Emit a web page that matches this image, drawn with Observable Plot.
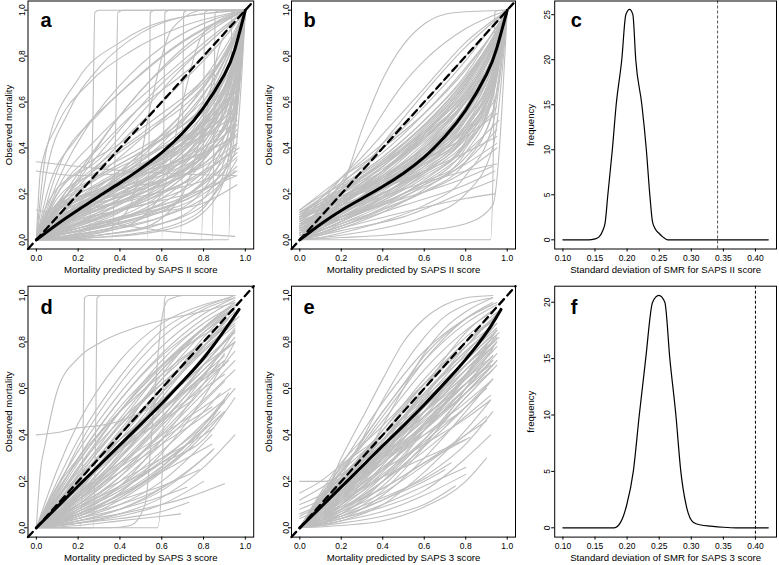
<!DOCTYPE html>
<html><head><meta charset="utf-8">
<script src="https://cdn.jsdelivr.net/npm/d3@7"></script>
<script src="https://cdn.jsdelivr.net/npm/@observablehq/plot@0.6"></script>
<style>
body{margin:0;background:#fff}
#root{position:relative;width:779px;height:565px;overflow:hidden;background:#fff}
#root svg{position:absolute;overflow:visible}
</style>
</head><body><div id="root"></div>
<script>
// ---------- data ----------
const calTicks = [0, 0.2, 0.4, 0.6, 0.8, 1.0];
const sdTicks = [0.10, 0.15, 0.20, 0.25, 0.30, 0.35, 0.40];
const freqTicksC = [0, 5, 10, 15, 20, 25];
const freqTicksF = [0, 5, 10, 15, 20];

// black mean calibration curves (x,y pairs flattened)
const blackA = [0,0,.1,.068,.2,.13,.3,.19,.4,.248,.5,.31,.6,.38,.7,.465,.8,.575,.9,.72,.95,.83,1,1];
const blackB = [0,0,.1,.068,.2,.128,.3,.18,.4,.232,.5,.29,.6,.36,.7,.45,.8,.565,.9,.72,.95,.835,1,1];
const blackD = [0,0,.1,.09,.2,.18,.3,.268,.4,.357,.5,.445,.6,.535,.7,.63,.8,.73,.9,.85,.97,.94];
const blackE = [0,0,.1,.088,.2,.176,.3,.264,.4,.353,.5,.44,.6,.53,.7,.625,.8,.725,.9,.84,.97,.94];

// gray hospital calibration curves, panel a
const grayA = [
[0,0,.2,.05,.4,.12,.6,.25,.8,.45,.92,.7,1,1],
[0,0,.2,.1,.4,.2,.6,.33,.8,.55,.93,.78,1,1],
[0,0,.2,.15,.4,.27,.6,.42,.8,.63,.93,.84,1,1],
[0,0,.1,.12,.3,.25,.5,.35,.7,.48,.9,.7,1,1],
[0,0,.1,.02,.3,.06,.5,.12,.7,.22,.9,.45,1,1],
[0,0,.1,.06,.3,.15,.5,.25,.7,.38,.9,.62,1,1],
[0,0,.1,.18,.3,.3,.5,.4,.7,.52,.9,.75,1,1],
[0,0,.05,.15,.2,.3,.4,.42,.6,.55,.8,.7,.95,.88,1,1],
[0,0,.2,.02,.4,.05,.6,.1,.8,.22,.93,.5,1,1],
[0,0,.3,.01,.6,.04,.8,.12,.93,.35,1,1],
[0,0,.1,.1,.3,.2,.5,.3,.7,.42,.85,.58,.95,.8,1,1],
[0,0,.1,.08,.3,.18,.5,.3,.7,.47,.85,.66,.95,.87,1,1],
[0,0,.1,.04,.3,.1,.5,.18,.7,.3,.85,.46,.95,.72,1,1],
[0,0,.1,.14,.3,.24,.5,.32,.7,.42,.85,.52,.95,.68,1,1],
[0,0,.15,.2,.35,.35,.55,.48,.75,.62,.9,.8,1,1],
[0,0,.15,.1,.35,.25,.55,.4,.75,.58,.9,.78,1,1],
[0,0,.15,.05,.35,.15,.55,.28,.75,.47,.9,.7,1,1],
[0,0,.1,.09,.3,.16,.5,.22,.7,.3,.85,.42,.95,.6,1,1],
[0,0,.1,.13,.3,.22,.5,.28,.7,.36,.85,.48,.95,.62,1,1],
[0,0,.2,.2,.4,.36,.6,.52,.8,.7,.93,.88,1,1],
[0,0,.2,.07,.4,.16,.6,.3,.8,.5,.93,.74,1,1],
[0,0,.2,.03,.4,.09,.6,.18,.8,.35,.93,.6,1,1],
[0,0,.2,.05,.5,.12,.8,.25,.96,.42],
[0,0,.2,.08,.5,.15,.8,.22,.96,.28],
[0,0,.2,.12,.5,.25,.8,.4,.96,.55],
[0,0,.2,.15,.5,.3,.8,.5,.96,.68],
[0,0,.1,.05,.4,.2,.7,.36,.95,.6],
[0,0,.1,.1,.4,.3,.7,.55,.95,.87],
[0,0,.3,.1,.6,.2,.8,.3,.97,.4],
[0,0,.3,.04,.6,.1,.8,.18,.95,.3],
[0,0,.2,.18,.5,.33,.8,.45,.96,.5],
[0,0,.2,.1,.5,.2,.8,.33,.95,.45],
[0,0,.05,.3,.15,.55,.3,.75,.5,.9,.7,.97,1,1],
[0,0,.1,.25,.25,.5,.45,.72,.65,.87,.85,.96,1,1],
[0,0,.1,.15,.3,.42,.5,.65,.7,.82,.9,.95,1,1],
[0,0,.05,.4,.2,.7,.4,.86,.6,.95,1,1],
[0,0,.1,.2,.3,.35,.5,.55,.7,.75,.9,.92,1,1],
[0,0,.15,.2,.35,.48,.55,.7,.75,.87,1,1],
[0,0,.1,.3,.3,.55,.5,.72,.7,.86,.9,.96,1,1],
[0,0,.05,.2,.2,.45,.4,.64,.6,.8,.8,.92,1,1],
[0,0,.02,.3,.1,.5,.25,.68,.45,.82,.7,.93,1,1],
[0,0,.3,.03,.45,.15,.55,.6,.65,.92,.8,1,1,1],
[0,0,.4,.05,.6,.2,.7,.6,.8,.9,1,1],
[0,0,.5,.05,.7,.2,.8,.5,.88,.85,1,1],
[0,0,.25,0,.27,.5,.28,.99,.3,1,1,1],
[0,0,.36,0,.38,.5,.39,.99,.42,1,1,1],
[0,0,.53,0,.54,.5,.545,.99,.57,1,1,1],
[0,0,.6,0,.61,.5,.615,.99,.64,1,1,1],
[0,0,.69,0,.7,.5,.705,.99,.73,1,1,1],
[0,0,.79,0,.8,.5,.805,.99,.83,1,1,1],
[0,0,.84,0,.85,.5,.855,.99,.88,1,1,1],
[0,0,.92,0,.93,.5,.935,.99,.96,1,1,1],
[0,.34,.3,.31,.6,.29,.95,.28],
[0,.13,.3,.08,.6,.04,.95,.015],
[0,.3,.2,.28,.5,.3,.8,.38,.96,.45],
[0,0,.1,.05,.3,.12,.5,.2,.7,.32,.85,.5,.95,.75,1,1],
[0,0,.1,.07,.3,.17,.5,.27,.7,.4,.85,.56,.95,.78,1,1],
[0,0,.1,.11,.3,.21,.5,.29,.7,.39,.85,.53,.95,.74,1,1],
[0,0,.1,.03,.3,.09,.5,.16,.7,.27,.85,.42,.95,.66,1,1],
[0,0,.1,.01,.3,.04,.5,.09,.7,.18,.85,.33,.95,.58,1,1],
[0,0,.1,.15,.3,.28,.5,.38,.7,.5,.85,.64,.95,.82,1,1],
[0,0,.1,.06,.3,.13,.5,.21,.7,.35,.85,.54,.96,.66],
[0,0,.1,.04,.3,.11,.5,.2,.7,.31,.85,.42,.96,.5],
[0,0,.1,.08,.3,.2,.5,.32,.7,.45,.85,.6,.96,.75],
[0,0,.1,.02,.3,.05,.5,.1,.7,.18,.85,.28,.96,.38],
[0,0,.1,.12,.3,.22,.5,.3,.7,.4,.85,.48,.96,.55],
[0,0,.1,.09,.3,.19,.5,.26,.7,.34,.85,.4,.96,.46],
[0,0,.2,.04,.4,.1,.6,.2,.8,.38,.9,.55,.97,.8,1,1],
[0,0,.2,.06,.4,.13,.6,.22,.8,.4,.9,.58,1,1],
[0,0,.2,.09,.4,.18,.6,.28,.8,.44,.9,.6,1,1],
[0,0,.2,.11,.4,.22,.6,.35,.8,.52,.9,.66,1,1],
[0,0,.2,.13,.4,.24,.6,.37,.8,.6,.9,.78,1,1],
[0,0,.2,.16,.4,.3,.6,.46,.8,.66,.9,.8,1,1],
[0,0,.2,.23,.4,.42,.6,.6,.8,.78,.9,.88,1,1],
[0,0,.2,.26,.4,.48,.6,.68,.8,.84,.9,.92,1,1],
[0,0,.1,.2,.3,.4,.5,.58,.7,.72,.9,.88,1,1],
[0,0,.05,.1,.2,.22,.4,.33,.6,.44,.8,.58,.95,.8,1,1],
[0,0,.05,.08,.2,.14,.4,.2,.6,.26,.8,.36,.95,.55,1,1],
[0,0,.05,.05,.2,.09,.4,.13,.6,.18,.8,.28,.95,.5,1,1],
[0,0,.3,.02,.6,.07,.8,.18,.93,.45,1,1],
[0,0,.4,.02,.7,.08,.85,.2,.95,.5,1,1],
[0,0,.2,.01,.5,.05,.8,.15,.96,.35],
[0,0,.2,.04,.5,.1,.8,.2,.96,.32],
[0,0,.1,.16,.3,.33,.5,.46,.7,.6,.85,.74,.95,.9,1,1],
[0,0,.1,.22,.3,.45,.5,.62,.7,.78,.9,.93,1,1],
[0,0,.1,.1,.25,.15,.45,.2,.65,.28,.85,.4,.96,.52],
[0,0,.1,.15,.25,.2,.45,.24,.65,.3,.85,.42,.96,.6],
[0,0,.05,.12,.2,.18,.4,.22,.6,.26,.8,.33,.96,.48],
[0,0,.1,.04,.25,.08,.45,.15,.65,.25,.85,.4,.95,.55,1,1],
[0,0,.1,.07,.25,.13,.45,.18,.65,.22,.85,.28,.96,.36],
[0,0,.1,.03,.25,.06,.45,.1,.65,.15,.85,.24,.96,.3],
[0,0,.05,.06,.2,.12,.4,.19,.6,.3,.8,.46,.95,.7,1,1],
[0,0,.05,.09,.2,.17,.4,.27,.6,.38,.8,.52,.95,.75,1,1],
[0,0,.05,.04,.2,.1,.4,.17,.6,.24,.8,.32,.96,.42],
[0,0,.1,.13,.3,.27,.5,.36,.7,.44,.85,.5,.96,.58],
[0,0,.1,.06,.3,.17,.5,.3,.7,.44,.85,.55,.96,.65],
[0,0,.15,.08,.35,.2,.55,.33,.75,.45,.9,.55,1,1],
[0,0,.15,.12,.35,.21,.55,.3,.75,.38,.9,.48,1,1],
[0,0,.15,.03,.35,.08,.55,.14,.75,.2,.9,.3,1,1],
[0,0,.2,.04,.4,.07,.6,.12,.8,.16,.96,.24],
[0,0,.2,.14,.4,.28,.6,.4,.8,.5,.96,.62],
[0,0,.1,.08,.2,.12,.4,.16,.6,.21,.8,.29,.95,.4],
[0,0,.1,.11,.2,.16,.4,.24,.6,.34,.8,.48,.95,.66,1,1],
[0,0,.05,.02,.2,.05,.4,.1,.6,.14,.8,.22,.95,.38,1,1],
[0,0,.1,.05,.2,.11,.4,.23,.6,.36,.8,.52,.95,.78,1,1]
];

// panel b
const grayB = [
[0,.1,.1,.16,.2,.22,.4,.33,.6,.47,.8,.66,.93,.85,1,1],
[0,.12,.1,.18,.2,.25,.4,.38,.6,.55,.8,.75,.93,.9,1,1],
[0,.08,.1,.12,.2,.17,.4,.27,.6,.4,.8,.6,.93,.82,1,1],
[0,.05,.1,.09,.2,.14,.4,.25,.6,.38,.8,.57,.93,.8,1,1],
[0,.03,.1,.07,.2,.12,.4,.22,.6,.34,.8,.52,.93,.76,1,1],
[0,.02,.1,.05,.2,.09,.4,.18,.6,.3,.8,.48,.93,.72,1,1],
[0,.1,.1,.14,.2,.18,.4,.26,.6,.36,.8,.5,.93,.7,1,1],
[0,.07,.1,.1,.2,.14,.4,.22,.6,.32,.8,.47,.93,.68,1,1],
[0,.13,.1,.2,.2,.27,.4,.42,.6,.6,.8,.8,.93,.93,1,1],
[0,.06,.1,.13,.2,.2,.4,.34,.6,.5,.8,.7,.93,.88,1,1],
[0,.09,.1,.15,.2,.2,.4,.3,.6,.43,.8,.6,.93,.78,1,1],
[0,.04,.1,.06,.2,.1,.4,.18,.6,.28,.8,.42,.93,.65,1,1],
[0,0,.1,.05,.2,.1,.4,.2,.6,.32,.8,.5,.93,.74,1,1],
[0,0,.1,.08,.2,.15,.4,.28,.6,.44,.8,.64,.93,.85,1,1],
[0,0,.1,.1,.2,.18,.4,.32,.6,.48,.8,.68,.93,.87,1,1],
[0,0,.1,.03,.2,.07,.4,.15,.6,.26,.8,.43,.93,.68,1,1],
[0,0,.1,.02,.2,.05,.4,.12,.6,.22,.8,.38,.93,.62,1,1],
[0,0,.1,.06,.2,.12,.4,.24,.6,.4,.8,.62,.93,.84,1,1],
[0,0,.1,.12,.2,.22,.4,.36,.6,.52,.8,.72,.93,.9,1,1],
[0,0,.1,.14,.2,.24,.4,.4,.6,.58,.8,.78,.93,.93,1,1],
[0,0,.1,.09,.2,.17,.4,.3,.6,.45,.8,.62,.93,.8,1,1],
[0,0,.1,.04,.2,.08,.4,.16,.6,.25,.8,.36,.93,.55,1,1],
[0,0,.1,.01,.2,.03,.4,.08,.6,.15,.8,.28,.93,.5,1,1],
[0,0,.2,.02,.4,.05,.6,.1,.8,.2,.93,.4,1,1],
[0,0,.2,.01,.4,.02,.6,.04,.8,.07,.93,.15,1,1],
[0,.05,.2,.15,.4,.3,.6,.45,.8,.6,.9,.72,.96,.86,1,1],
[0,.11,.1,.17,.2,.23,.4,.35,.6,.5,.8,.7,.93,.86,1,1],
[0,.02,.1,.04,.2,.08,.4,.19,.6,.34,.8,.56,.93,.79,1,1],
[0,.06,.1,.11,.2,.16,.4,.29,.6,.46,.8,.67,.93,.86,1,1],
[0,0,.2,.06,.5,.15,.8,.24,.94,.3],
[0,0,.2,.05,.5,.12,.8,.18,.94,.2],
[0,.05,.2,.12,.5,.22,.8,.3,.95,.33],
[0,.03,.2,.1,.5,.2,.8,.33,.95,.42],
[0,0,.2,.08,.5,.2,.8,.38,.96,.52],
[0,.08,.2,.15,.5,.26,.8,.38,.95,.45],
[0,.04,.2,.1,.5,.18,.8,.27,.93,.32],
[0,0,.1,.1,.2,.22,.3,.48,.4,.7,.5,.85,.6,.94,.75,.99,1,1],
[0,0,.1,.12,.2,.25,.3,.4,.4,.55,.5,.68,.6,.78,.8,.92,1,1],
[0,.04,.1,.1,.2,.2,.3,.3,.4,.42,.5,.53,.6,.64,.8,.84,1,1],
[0,0,.1,.15,.2,.27,.3,.36,.4,.46,.6,.66,.8,.86,1,1],
[0,.1,.1,.18,.2,.27,.3,.33,.4,.4,.6,.55,.8,.74,.93,.9,1,1],
[0,0,.92,0,.935,.5,.94,.99,.96,1,1,1],
[0,.07,.1,.12,.2,.18,.4,.3,.6,.44,.8,.63,.93,.84,1,1],
[0,.09,.1,.14,.2,.19,.4,.28,.6,.4,.8,.56,.93,.76,1,1],
[0,.11,.1,.15,.2,.19,.4,.27,.6,.38,.8,.53,.93,.72,1,1],
[0,.04,.1,.08,.2,.13,.4,.24,.6,.37,.8,.55,.93,.78,1,1],
[0,.03,.1,.06,.2,.11,.4,.21,.6,.35,.8,.54,.93,.78,1,1],
[0,.01,.1,.04,.2,.08,.4,.17,.6,.29,.8,.46,.93,.7,1,1],
[0,.12,.1,.16,.2,.21,.4,.31,.6,.44,.8,.6,.93,.78,1,1],
[0,.08,.1,.11,.2,.15,.4,.23,.6,.34,.8,.5,.93,.72,1,1],
[0,.05,.1,.1,.2,.16,.4,.3,.6,.46,.8,.65,.93,.84,1,1],
[0,.02,.1,.06,.2,.11,.4,.23,.6,.38,.8,.58,.93,.8,1,1],
[0,0,.1,.07,.2,.13,.4,.25,.6,.38,.8,.56,.93,.78,1,1],
[0,0,.1,.11,.2,.2,.4,.34,.6,.5,.8,.7,.93,.88,1,1],
[0,0,.1,.05,.2,.09,.4,.17,.6,.27,.8,.41,.93,.62,1,1],
[0,0,.1,.03,.2,.06,.4,.13,.6,.21,.8,.34,.93,.56,1,1],
[0,.1,.1,.15,.2,.21,.4,.33,.6,.49,.8,.69,.93,.88,1,1],
[0,.06,.1,.1,.2,.14,.4,.24,.6,.36,.8,.52,.93,.74,1,1],
[0,.13,.1,.19,.2,.24,.4,.36,.6,.52,.8,.71,.93,.88,1,1],
[0,.03,.2,.1,.5,.24,.8,.42,.95,.58],
[0,.02,.2,.07,.5,.17,.8,.3,.95,.4],
[0,.06,.2,.13,.5,.25,.8,.44,.95,.62],
[0,0,.2,.04,.5,.1,.8,.21,.94,.26],
[0,0,.1,.08,.2,.16,.4,.3,.6,.47,.8,.67,.93,.86,1,1],
[0,.09,.1,.13,.2,.17,.4,.25,.6,.35,.8,.48,.93,.66,1,1],
[0,.05,.1,.08,.2,.12,.4,.2,.6,.3,.8,.45,.93,.67,1,1],
[0,.07,.1,.11,.2,.16,.4,.26,.6,.39,.8,.56,.93,.76,1,1],
[0,.04,.1,.09,.2,.15,.4,.27,.6,.42,.8,.6,.93,.8,1,1],
[0,.1,.1,.13,.2,.17,.4,.24,.6,.33,.8,.46,.93,.64,1,1],
[0,.02,.1,.05,.2,.1,.4,.2,.6,.31,.8,.46,.93,.68,1,1],
[0,.06,.1,.12,.2,.18,.4,.32,.6,.48,.8,.68,.93,.87,1,1],
[0,.03,.1,.07,.2,.13,.4,.26,.6,.41,.8,.61,.93,.83,1,1],
[0,0,.1,.06,.2,.11,.4,.22,.6,.35,.8,.53,.93,.76,1,1],
[0,0,.1,.09,.2,.16,.4,.27,.6,.4,.8,.58,.93,.8,1,1],
[0,.08,.1,.14,.2,.2,.4,.32,.6,.46,.8,.62,.93,.8,1,1],
[0,.05,.1,.09,.2,.13,.4,.22,.6,.33,.8,.49,.93,.7,1,1],
[0,.12,.1,.17,.2,.22,.4,.34,.6,.47,.8,.64,.93,.82,1,1],
[0,.01,.1,.03,.2,.06,.4,.14,.6,.24,.8,.4,.93,.64,1,1],
[0,.09,.2,.18,.5,.3,.8,.45,.95,.55],
[0,.04,.2,.09,.5,.19,.8,.34,.95,.48]
];

// panel d
const grayD = [
[0,0,.1,.15,.2,.3,.4,.55,.6,.75,.8,.9,.95,.98],
[0,0,.1,.2,.2,.38,.4,.65,.6,.85,.8,.95,.95,1],
[0,0,.1,.1,.2,.22,.4,.45,.6,.68,.8,.86,.95,.96],
[0,0,.1,.08,.2,.18,.4,.38,.6,.6,.8,.8,.95,.93],
[0,0,.1,.05,.2,.12,.4,.3,.6,.52,.8,.74,.95,.9],
[0,0,.1,.12,.2,.25,.4,.5,.6,.72,.8,.88,.93,.95],
[0,0,.1,.25,.2,.45,.4,.72,.6,.88,.8,.96,.93,.99],
[0,0,.1,.03,.2,.08,.4,.22,.6,.42,.8,.65,.95,.85],
[0,0,.1,.02,.2,.05,.4,.15,.6,.32,.8,.56,.95,.8],
[0,0,.1,.06,.2,.14,.4,.34,.6,.56,.8,.78,.92,.9],
[0,0,.1,.18,.2,.33,.4,.58,.6,.78,.8,.92,.95,.99],
[0,0,.1,.09,.2,.2,.4,.42,.6,.64,.8,.84,.95,.95],
[0,0,.1,.04,.2,.1,.4,.26,.6,.47,.8,.7,.92,.82],
[0,0,.1,.14,.2,.28,.4,.52,.6,.7,.8,.83,.9,.88],
[0,0,.1,.07,.2,.15,.4,.33,.6,.5,.8,.68,.95,.8],
[0,0,.1,.1,.2,.2,.4,.4,.6,.58,.8,.76,.97,.91],
[0,0,.1,.05,.2,.13,.4,.32,.6,.58,.8,.82,.95,.95],
[0,0,.1,.13,.2,.24,.4,.44,.6,.62,.75,.74],
[0,0,.1,.02,.2,.06,.4,.18,.6,.38,.8,.62,.9,.75],
[0,0,.2,.05,.4,.13,.6,.25,.8,.42,.9,.55],
[0,0,.2,.08,.4,.2,.6,.36,.8,.54,.9,.63],
[0,0,.2,.04,.4,.1,.6,.2,.84,.4],
[0,0,.2,.06,.4,.14,.6,.24,.84,.36],
[0,0,.2,.03,.4,.08,.6,.16,.84,.33],
[0,0,.2,.02,.4,.05,.6,.1,.8,.2],
[0,0,.2,.03,.4,.06,.6,.1,.72,.13,.9,.19],
[0,0,.2,.02,.4,.04,.6,.07,.73,.11],
[0,0,.2,.01,.4,.03,.6,.05,.69,.06],
[0,0,.2,.04,.4,.08,.55,.12,.72,.175],
[0,0,.2,.07,.4,.16,.6,.28,.75,.38,.9,.5],
[0,0,.2,.1,.4,.24,.6,.4,.8,.58,.95,.72],
[0,0,.2,.12,.4,.3,.6,.5,.8,.68,.9,.77],
[0,0,.2,.06,.4,.12,.6,.18,.78,.25],
[0,0,.15,.1,.3,.2,.5,.32,.7,.44,.84,.52],
[0,0,.15,.04,.3,.1,.5,.2,.7,.34,.88,.5],
[0,0,.2,.02,.4,.06,.6,.13,.8,.26,.95,.4],
[0,0,.2,.09,.4,.18,.6,.28,.8,.38,.95,.56],
[0,0,.1,.1,.3,.26,.5,.42,.7,.58,.85,.7],
[0,0,.1,.16,.3,.4,.5,.6,.7,.78,.9,.92],
[0,0,.1,.11,.3,.3,.5,.5,.7,.7,.9,.86],
[0,0,.02,.25,.04,.35,.1,.59,.2,.73,.31,.8,.47,.86,.63,.9,.79,.93,.95,.97],
[0,.4,.1,.41,.2,.43,.3,.44,.4,.46,.55,.52,.7,.62,.85,.75,.95,.85],
[0,0,.21,0,.225,.5,.23,.99,.25,1,.6,1,.95,1],
[0,0,.27,0,.285,.5,.29,.99,.31,1,.6,1,.95,1],
[0,0,.58,0,.605,.3,.612,.97,.62,1,.95,1],
[0,0,.35,0,.45,.01,.52,.1,.56,.5,.6,.9,.63,.98,.7,1],
[0,0,.1,.06,.2,.13,.4,.3,.6,.48,.8,.66,.9,.74],
[0,0,.1,.08,.2,.17,.4,.36,.6,.55,.8,.72,.95,.84],
[0,0,.1,.04,.2,.09,.4,.22,.6,.38,.8,.55,.95,.68],
[0,0,.1,.11,.2,.22,.4,.44,.6,.64,.8,.8,.95,.9],
[0,0,.1,.03,.2,.07,.4,.18,.6,.33,.8,.5,.88,.58],
[0,0,.1,.05,.2,.11,.4,.26,.6,.44,.8,.62,.92,.72],
[0,0,.1,.02,.2,.04,.4,.12,.6,.24,.8,.4,.9,.5],
[0,0,.1,.01,.2,.03,.4,.08,.6,.17,.8,.3,.85,.34],
[0,0,.1,.12,.2,.26,.4,.5,.6,.7,.8,.86,.95,.95],
[0,0,.1,.15,.2,.3,.4,.55,.6,.74,.8,.88],
[0,0,.1,.07,.2,.16,.4,.36,.6,.58,.8,.77,.95,.88],
[0,0,.1,.09,.2,.18,.4,.35,.6,.51,.8,.65,.9,.72],
[0,0,.1,.05,.2,.1,.4,.2,.6,.3,.8,.4,.85,.43],
[0,0,.1,.06,.2,.12,.4,.24,.6,.36,.8,.48,.9,.55],
[0,0,.1,.03,.2,.06,.4,.14,.6,.25,.75,.35],
[0,0,.1,.13,.2,.26,.4,.46,.6,.62,.8,.76,.95,.87],
[0,0,.1,.1,.2,.19,.4,.34,.6,.46,.75,.55],
[0,0,.1,.04,.2,.08,.4,.17,.6,.28,.7,.34],
[0,0,.1,.08,.2,.15,.4,.28,.6,.4,.8,.52,.93,.6],
[0,0,.1,.02,.2,.05,.4,.1,.55,.15,.65,.2],
[0,0,.1,.17,.2,.35,.4,.62,.6,.82,.8,.94,.95,.99],
[0,0,.1,.06,.2,.15,.4,.4,.6,.66,.8,.86,.95,.97],
[0,0,.05,.1,.2,.3,.4,.5,.6,.66,.8,.8,.9,.86],
[0,0,.1,.07,.2,.14,.4,.31,.6,.5,.8,.7,.95,.86],
[0,0,.1,.05,.2,.12,.4,.28,.6,.46,.8,.64,.9,.7],
[0,0,.1,.1,.2,.21,.4,.41,.6,.6,.8,.78,.95,.9],
[0,0,.1,.04,.2,.1,.4,.24,.6,.41,.8,.6,.95,.76],
[0,0,.1,.08,.2,.17,.4,.33,.6,.47,.8,.6,.9,.66],
[0,0,.1,.03,.2,.07,.4,.16,.6,.29,.8,.45,.9,.54],
[0,0,.1,.11,.2,.23,.4,.47,.6,.68,.8,.84,.95,.94],
[0,0,.1,.06,.2,.12,.4,.27,.6,.45,.8,.66,.95,.82],
[0,0,.1,.09,.2,.2,.4,.38,.6,.54,.8,.7,.95,.8],
[0,0,.1,.02,.2,.05,.4,.13,.6,.26,.8,.44,.92,.58],
[0,0,.1,.13,.2,.22,.4,.38,.6,.52,.8,.64,.88,.7],
[0,0,.1,.05,.2,.09,.4,.18,.6,.3,.8,.44,.95,.6]
];

// panel e
const grayE = [
[0,0,.1,.1,.2,.3,.3,.47,.4,.64,.5,.8,.6,.9,.7,.96,.8,.99,.93,1],
[0,0,.1,.08,.2,.22,.3,.38,.4,.55,.5,.7,.6,.82,.7,.91,.8,.96,.93,.99],
[0,0,.1,.12,.2,.25,.3,.36,.4,.48,.5,.6,.6,.72,.7,.82,.8,.9,.93,.97],
[0,0,.1,.05,.2,.15,.3,.28,.4,.44,.5,.6,.6,.75,.7,.86,.8,.93,.93,.99],
[0,0,.1,.15,.2,.28,.3,.38,.4,.5,.5,.62,.6,.74,.8,.9,.95,.97],
[0,0,.1,.06,.2,.13,.3,.22,.4,.33,.5,.46,.6,.6,.7,.73,.8,.84,.95,.95],
[0,0,.1,.04,.2,.1,.4,.27,.6,.5,.8,.72,.95,.88],
[0,0,.1,.08,.2,.16,.4,.34,.6,.55,.8,.75,.95,.9],
[0,0,.1,.1,.2,.2,.4,.38,.6,.57,.8,.76,.93,.86],
[0,0,.1,.03,.2,.08,.4,.22,.6,.42,.8,.65,.95,.83],
[0,0,.1,.02,.2,.05,.4,.16,.6,.35,.8,.6,.95,.8],
[0,0,.1,.13,.2,.22,.4,.36,.6,.5,.8,.66,.95,.8],
[0,0,.1,.07,.2,.14,.4,.3,.6,.47,.8,.65,.93,.77],
[0,0,.1,.05,.2,.11,.4,.25,.6,.42,.8,.6,.93,.72],
[0,0,.1,.02,.2,.06,.4,.18,.6,.36,.8,.56,.93,.68],
[0,0,.1,.09,.2,.18,.4,.33,.6,.48,.8,.62,.93,.72],
[0,0,.1,.06,.2,.12,.4,.26,.6,.4,.8,.54,.92,.63],
[0,0,.1,.04,.2,.08,.4,.2,.6,.33,.8,.48,.92,.57],
[0,0,.1,.01,.2,.03,.4,.1,.6,.24,.8,.42,.92,.55],
[0,0,.1,.03,.2,.07,.4,.15,.6,.27,.8,.4,.9,.48],
[0,0,.1,.11,.2,.19,.4,.31,.6,.44,.8,.58,.95,.72],
[0,0,.1,.05,.2,.12,.4,.3,.6,.5,.8,.7,.96,.84],
[0,0,.1,.14,.2,.26,.4,.44,.6,.62,.8,.78,.95,.92],
[0,0,.1,.09,.2,.2,.4,.42,.6,.64,.8,.82,.97,.94],
[0,0,.1,.12,.2,.24,.4,.46,.6,.68,.8,.85,.93,.93],
[0,0,.1,.07,.2,.17,.4,.4,.6,.62,.8,.8,.94,.9],
[0,0,.1,.03,.2,.1,.4,.3,.6,.56,.8,.78,.95,.92],
[0,0,.2,.03,.4,.07,.6,.14,.8,.23],
[0,0,.2,.04,.4,.1,.6,.18,.8,.26],
[0,0,.2,.06,.4,.13,.6,.21,.73,.28],
[0,0,.2,.08,.4,.17,.6,.28,.82,.39],
[0,0,.2,.02,.4,.05,.6,.1,.75,.18],
[0,0,.2,.05,.4,.12,.6,.2,.7,.25],
[0,0,.2,.01,.4,.03,.6,.09,.8,.2,.9,.3],
[0,0,.2,.04,.4,.09,.6,.16,.8,.3,.92,.4],
[0,.2,.06,.2,.12,.2,.2,.23,.4,.35,.6,.5,.8,.66,.93,.78],
[0,.1,.1,.14,.2,.2,.4,.32,.6,.46,.8,.62,.93,.74],
[0,.05,.1,.1,.2,.16,.4,.28,.6,.42,.8,.58,.95,.72],
[0,.15,.1,.2,.2,.27,.4,.4,.6,.55,.8,.7],
[0,0,.1,.06,.2,.14,.4,.32,.6,.52,.8,.7,.93,.8],
[0,0,.1,.08,.2,.17,.4,.37,.6,.58,.8,.76,.93,.86],
[0,0,.1,.04,.2,.09,.4,.24,.6,.44,.8,.64,.93,.76],
[0,0,.1,.1,.2,.21,.4,.42,.6,.62,.8,.8,.95,.9],
[0,0,.1,.03,.2,.07,.4,.2,.6,.38,.8,.58,.93,.7],
[0,0,.1,.05,.2,.1,.4,.22,.6,.37,.8,.52,.9,.6],
[0,0,.1,.12,.2,.22,.4,.38,.6,.54,.8,.7,.93,.8],
[0,0,.1,.07,.2,.15,.4,.29,.6,.43,.8,.58,.93,.68],
[0,0,.1,.09,.2,.19,.4,.38,.6,.58,.8,.74,.95,.86],
[0,0,.1,.02,.2,.06,.4,.2,.6,.42,.8,.66,.95,.85],
[0,0,.1,.06,.2,.13,.4,.28,.6,.45,.8,.62,.92,.7],
[0,0,.1,.11,.2,.24,.4,.5,.6,.72,.8,.88,.95,.96],
[0,0,.1,.13,.2,.27,.4,.54,.6,.76,.8,.9,.93,.96],
[0,0,.1,.04,.2,.12,.4,.35,.6,.6,.8,.8,.93,.9],
[0,0,.1,.08,.2,.14,.4,.25,.6,.36,.8,.47,.92,.55],
[0,0,.1,.05,.2,.09,.4,.17,.6,.28,.8,.4,.9,.46],
[0,0,.1,.03,.2,.05,.4,.12,.6,.22,.8,.36,.93,.5],
[0,0,.1,.1,.2,.18,.4,.3,.6,.4,.78,.5],
[0,0,.1,.07,.2,.12,.4,.22,.6,.3,.8,.38],
[0,.08,.1,.12,.2,.18,.4,.32,.6,.5,.8,.68,.93,.8],
[0,.12,.1,.17,.2,.23,.4,.36,.6,.5,.8,.64,.93,.74],
[0,.04,.1,.08,.2,.13,.4,.26,.6,.42,.8,.6,.95,.75],
[0,0,.1,.14,.2,.24,.4,.4,.6,.56,.8,.72,.95,.85],
[0,0,.1,.09,.2,.16,.4,.3,.6,.48,.8,.68,.96,.82],
[0,0,.1,.07,.2,.15,.4,.33,.6,.53,.8,.72,.95,.85],
[0,0,.1,.05,.2,.13,.4,.31,.6,.52,.8,.72,.93,.83],
[0,0,.1,.1,.2,.2,.4,.36,.6,.52,.8,.68,.93,.78],
[0,0,.1,.04,.2,.1,.4,.25,.6,.45,.8,.66,.95,.82],
[0,0,.1,.08,.2,.16,.4,.32,.6,.5,.8,.7,.93,.82],
[0,0,.1,.03,.2,.08,.4,.2,.6,.35,.8,.52,.93,.64],
[0,0,.1,.11,.2,.22,.4,.4,.6,.6,.8,.78,.95,.88],
[0,0,.1,.06,.2,.11,.4,.23,.6,.38,.8,.56,.95,.7],
[0,0,.1,.09,.2,.17,.4,.3,.6,.44,.8,.6,.93,.7],
[0,0,.1,.02,.2,.04,.4,.14,.6,.3,.8,.5,.93,.64],
[0,.06,.1,.1,.2,.15,.4,.28,.6,.44,.8,.62,.93,.74],
[0,0,.1,.12,.2,.2,.4,.34,.6,.48,.8,.64,.95,.78]
];

// density of SD of SMR
const densCx = [0.10,0.14,0.15,0.156,0.162,0.166,0.170,0.177,0.183,0.1917,0.198,0.204,0.209,0.2135,0.223,0.230,0.2354,0.2396,0.244,0.25,0.256,0.263,0.42];
const densCy = [0,0,0.1,0.3,1.0,2.0,5,10,15,20,25,25.6,25,20,15,10,5,2,1.2,0.7,0.3,0,0];
const densFx = [0.10,0.18,0.19,0.1993,0.2097,0.219,0.229,0.2397,0.2495,0.2588,0.2666,0.276,0.2837,0.292,0.303,0.315,0.33,0.35,0.37,0.42];
const densFy = [0,0,0.5,2,5,10,15,20,20.6,20,15,10,5,2,0.5,0.25,0.15,0.05,0,0];
const observedSdC = [0.341];
const observedSdF = [0.40];

// ---------- drawing ----------
const FONT = "'Liberation Sans', Arial, Helvetica, sans-serif";
const calDomain = [-0.04, 1.04];
const f1 = d3.format(".1f"), f2 = d3.format(".2f");
const root = document.getElementById("root");
const TICK_FS = 8.5, TITLE_FS = 9.6;

function toRows(curves){
  const rows = [];
  curves.forEach((c, i) => { for (let k = 0; k < c.length; k += 2) rows.push({id: i, x: c[k], y: c[k+1]}); });
  return rows;
}
function place(svg, left, top){ svg.style.left = left + "px"; svg.style.top = top + "px"; root.appendChild(svg); }

function calPanel(o){
  const g = toRows(o.gray), b = toRows([o.black]);
  const diag = calDomain.map(v => ({x: v, y: v}));
  const svg = Plot.plot({
    width: o.w, height: o.h, marginLeft: o.ml, marginRight: o.mr, marginTop: o.mt, marginBottom: o.mb,
    x: {domain: calDomain}, y: {domain: calDomain},
    style: {fontFamily: FONT, background: "transparent", color: "#000"},
    marks: [
      Plot.line(g, {x: "x", y: "y", z: "id", stroke: "#bebebe", strokeWidth: 1.1, curve: "monotone-x"}),
      Plot.line(diag, {x: "x", y: "y", stroke: "#000", strokeWidth: 2.3, strokeDasharray: "7,5"}),
      Plot.line(b, {x: "x", y: "y", stroke: "#000", strokeWidth: 3, curve: "natural"}),
      Plot.frame({stroke: "#000", strokeWidth: 1}),
      Plot.axisX({ticks: calTicks, tickSize: 3, tickPadding: 3, tickFormat: f1, fontSize: TICK_FS, label: null}),
      Plot.axisY({ticks: calTicks, tickSize: 3, tickFormat: () => "", label: null}),
      Plot.text(calTicks, {y: d => d, text: f1, frameAnchor: "left", dx: o.tdx, rotate: -90, fontSize: TICK_FS, textAnchor: "middle", lineAnchor: "middle"}),
      Plot.text([o.xlabel], {text: d => d, frameAnchor: "bottom", dy: 20.5, fontSize: TITLE_FS, textAnchor: "middle", lineAnchor: "middle"}),
      Plot.text([o.ylabel], {text: d => d, frameAnchor: "left", dx: o.ldx, rotate: -90, fontSize: TITLE_FS, textAnchor: "middle", lineAnchor: "middle"}),
      Plot.text([o.letter], {text: d => d, frameAnchor: "top-left", dx: o.ltx, dy: o.lty, fontSize: 20, fontWeight: "bold", textAnchor: "start", lineAnchor: "bottom"})
    ]
  });
  place(svg, o.left, o.top);
}

function densPanel(o){
  const rows = o.xs.map((x, i) => ({x, y: o.ys[i]}));
  const svg = Plot.plot({
    width: o.w, height: o.h, marginLeft: o.ml, marginRight: o.mr, marginTop: o.mt, marginBottom: o.mb,
    x: {domain: o.xdom}, y: {domain: o.ydom},
    style: {fontFamily: FONT, background: "transparent", color: "#000"},
    marks: [
      Plot.ruleX(o.vline, {stroke: o.vcolor, strokeWidth: 1, strokeDasharray: "3,2"}),
      Plot.line(rows, {x: "x", y: "y", stroke: "#000", strokeWidth: 1.2, curve: "monotone-x"}),
      Plot.frame({stroke: "#000", strokeWidth: 1}),
      Plot.axisX({ticks: sdTicks, tickSize: 3, tickPadding: 3, tickFormat: f2, fontSize: TICK_FS, label: null}),
      Plot.axisY({ticks: o.yticks, tickSize: 3, tickFormat: () => "", label: null}),
      Plot.text(o.yticks, {y: d => d, text: d => String(d), frameAnchor: "left", dx: -7, rotate: -90, fontSize: TICK_FS, textAnchor: "middle", lineAnchor: "middle"}),
      Plot.text([o.xlabel], {text: d => d, frameAnchor: "bottom", dy: 20.5, fontSize: TITLE_FS, textAnchor: "middle", lineAnchor: "middle"}),
      Plot.text(["frequency"], {text: d => d, frameAnchor: "left", dx: -24, rotate: -90, fontSize: TITLE_FS, textAnchor: "middle", lineAnchor: "middle"}),
      Plot.text([o.letter], {text: d => d, frameAnchor: "top-left", dx: 16, dy: o.lty, fontSize: 20, fontWeight: "bold", textAnchor: "start", lineAnchor: "bottom"})
    ]
  });
  place(svg, o.left, o.top);
}

const row1 = {top: 0, h: 280, mt: 0.5, mb: 31.5};
const row2 = {top: 280, h: 285, mt: 5.7, mb: 28.4};
const col1 = {left: 0, w: 262, ml: 27.5, mr: 8.8, tdx: -6, ldx: -19.5, ltx: 12.5};
const col2 = {left: 262, w: 258, ml: 29, mr: 5, tdx: -5.5, ldx: -23, ltx: 12};
const col3 = {left: 520, w: 259, ml: 34.2, mr: 3};

calPanel({...row1, ...col1, gray: grayA, black: blackA, letter: "a", lty: 26,
  xlabel: "Mortality predicted by SAPS II score", ylabel: "Observed mortality"});
calPanel({...row1, ...col2, gray: grayB, black: blackB, letter: "b", lty: 26,
  xlabel: "Mortality predicted by SAPS II score", ylabel: "Observed mortality"});
densPanel({...row1, ...col3, xs: densCx, ys: densCy, xdom: [0.0872, 0.4328], ydom: [-1.02, 26.52],
  yticks: freqTicksC, vline: observedSdC, vcolor: "#555", letter: "c", lty: 26,
  xlabel: "Standard deviation of SMR for SAPS II score"});
calPanel({...row2, ...col1, gray: grayD, black: blackD, letter: "d", lty: 27.3,
  xlabel: "Mortality predicted by SAPS 3 score", ylabel: "Observed mortality"});
calPanel({...row2, ...col2, gray: grayE, black: blackE, letter: "e", lty: 27.3,
  xlabel: "Mortality predicted by SAPS 3 score", ylabel: "Observed mortality"});
densPanel({...row2, ...col3, xs: densFx, ys: densFy, xdom: [0.0872, 0.4328], ydom: [-0.824, 21.42],
  yticks: freqTicksF, vline: observedSdF, vcolor: "#000", letter: "f", lty: 27.3,
  xlabel: "Standard deviation of SMR for SAPS 3 score"});
</script>
</body></html>
